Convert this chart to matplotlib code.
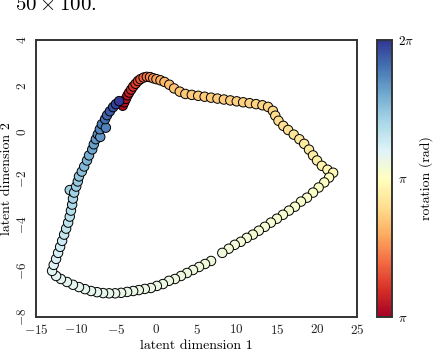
import numpy as np
from matplotlib import pyplot as plt
import matplotlib
matplotlib.use("Agg")

# latent path, in drawing order (red end -> blue end)
x_top = [-4.2, -4.0, -3.8, -3.6, -3.4, -3.15, -2.9, -2.6, -2.3, -2.0, -1.6, -1.2,
         -0.8, -0.4, 0.0, 0.5, 1.0, 1.6, 2.2, 2.9, 3.6, 4.4, 5.2, 6.0, 6.8, 7.6,
         8.4, 9.2, 10.0, 10.8, 11.6, 12.4, 13.2, 13.9, 14.5, 14.8, 15.2, 15.8,
         16.4, 17.1, 17.8, 18.4, 19.0, 19.5, 20.0, 20.6, 21.3, 22.0]
y_top = [1.15, 1.30, 1.45, 1.60, 1.72, 1.85, 1.98, 2.10, 2.22, 2.30, 2.37, 2.40,
         2.39, 2.34, 2.30, 2.25, 2.18, 2.06, 1.90, 1.76, 1.66, 1.62, 1.58, 1.54,
         1.50, 1.46, 1.42, 1.38, 1.34, 1.30, 1.26, 1.22, 1.17, 1.10, 0.93, 0.72,
         0.50, 0.28, 0.10, -0.10, -0.30, -0.50, -0.75, -1.00, -1.22, -1.45,
         -1.62, -1.75]
rot_top = [3.19, 3.22, 3.26, 3.30, 3.35, 3.40, 3.46, 3.52, 3.58, 3.64, 3.72, 3.80,
           3.88, 3.96, 4.03, 4.09, 4.14, 4.18, 4.21, 4.23, 4.25, 4.26, 4.27, 4.27,
           4.28, 4.28, 4.29, 4.29, 4.30, 4.30, 4.31, 4.31, 4.32, 4.33, 4.35, 4.37,
           4.39, 4.41, 4.43, 4.45, 4.47, 4.49, 4.51, 4.53, 4.56, 4.59, 4.62, 4.66]

x_low = [21.5, 20.9, 20.2, 19.5, 18.75, 18.0, 17.25, 16.5, 15.75, 15.0, 14.25,
         13.5, 12.75, 12.0, 11.25, 10.5, 9.75, 9.0, 8.2, 6.8, 6.05, 5.3, 4.55,
         3.8, 3.05, 2.3, 1.55, 0.8, 0.05, -0.7, -1.45, -2.2, -2.9, -3.65, -4.4,
         -5.15, -5.9, -6.65, -7.4, -8.15, -8.9, -9.65, -10.4, -11.15, -11.9,
         -12.5, -13.0]
y_low = [-1.96, -2.17, -2.39, -2.61, -2.83, -3.00, -3.22, -3.39, -3.57, -3.74,
         -3.91, -4.09, -4.26, -4.43, -4.57, -4.74, -4.87, -5.04, -5.22, -5.57,
         -5.70, -5.83, -5.96, -6.09, -6.22, -6.35, -6.43, -6.57, -6.65, -6.74,
         -6.78, -6.83, -6.87, -6.91, -6.95, -6.97, -6.97, -6.96, -6.92, -6.87,
         -6.79, -6.70, -6.60, -6.48, -6.35, -6.22, -6.00]
rot_low = [4.72, 4.74, 4.75, 4.76, 4.77, 4.78, 4.79, 4.80, 4.80, 4.81, 4.82,
           4.82, 4.83, 4.83, 4.84, 4.84, 4.85, 4.85, 4.86, 4.86, 4.87, 4.87,
           4.88, 4.88, 4.89, 4.89, 4.90, 4.90, 4.91, 4.91, 4.92, 4.92, 4.93,
           4.93, 4.94, 4.94, 4.95, 4.95, 4.96, 4.96, 4.97, 4.97, 4.98, 4.98,
           4.99, 4.99, 5.00]

x_left = [-12.8, -12.5, -12.25, -12.0, -11.75, -11.5, -11.25, -11.0, -10.8,
          -10.65, -10.5, -10.4, -10.8, -10.25, -10.0, -9.8, -9.65, -9.3, -9.0,
          -8.65, -8.4, -8.0, -7.8, -7.55, -7.3, -7.0, -7.05, -6.8, -6.3, -6.4,
          -6.15, -5.8, -5.4, -5.05, -4.65]
y_left = [-5.74, -5.48, -5.22, -4.96, -4.70, -4.43, -4.17, -3.91, -3.65, -3.39,
          -3.13, -2.87, -2.50, -2.61, -2.35, -2.13, -1.91, -1.70, -1.48, -1.22,
          -1.00, -0.74, -0.52, -0.30, -0.09, -0.20, 0.13, 0.35, 0.20, 0.57,
          0.74, 0.91, 1.09, 1.22, 1.35]
rot_left = [5.03, 5.06, 5.09, 5.12, 5.15, 5.18, 5.21, 5.24, 5.27, 5.30, 5.33,
            5.36, 5.40, 5.39, 5.42, 5.45, 5.48, 5.52, 5.56, 5.60, 5.64, 5.69,
            5.73, 5.77, 5.82, 5.79, 5.87, 5.92, 5.89, 5.98, 6.04, 6.10, 6.16,
            6.22, 6.27]

x_ticks = [-15, -10, -5, 0, 5, 10, 15, 20, 25]
y_ticks = [-8, -6, -4, -2, 0, 2, 4]
cbar_labels = [r"$\pi$", r"$\pi$", r"$2\pi$"]


def main():
    plt.rcParams["font.family"] = "serif"
    plt.rcParams["font.serif"] = ["cmr10", "DejaVu Serif"]
    plt.rcParams["mathtext.fontset"] = "cm"
    plt.rcParams["axes.formatter.use_mathtext"] = True

    xs = np.array(x_top + x_low + x_left)
    ys = np.array(y_top + y_low + y_left)
    rot = np.array(rot_top + rot_low + rot_left)

    fig = plt.figure(figsize=(4.34, 3.5), dpi=100)
    ax = fig.add_axes([0.083, 0.094, 0.740, 0.792])
    sc = ax.scatter(xs, ys, c=rot, cmap="RdYlBu", vmin=np.pi, vmax=2 * np.pi,
                    s=46, edgecolors="black", linewidths=0.7)
    ax.set_xlim(-15, 25)
    ax.set_ylim(-8, 4)
    ax.set_xticks(x_ticks)
    ax.set_yticks(y_ticks)
    ax.tick_params(length=0, labelsize=9.5, colors="#222222")
    ax.tick_params(axis="x", pad=4)
    ax.tick_params(axis="y", pad=5, labelrotation=90)
    for lab in ax.get_yticklabels():
        lab.set_va("center")
    for sp in ax.spines.values():
        sp.set_color("#333333")
        sp.set_linewidth(1.4)
    ax.set_xlabel("latent dimension 1", fontsize=10, labelpad=2)
    ax.set_ylabel("latent dimension 2", fontsize=10, labelpad=2)

    cax = fig.add_axes([0.869, 0.094, 0.035, 0.792])
    cbar = fig.colorbar(sc, cax=cax, ticks=[np.pi, 1.5 * np.pi, 2 * np.pi])
    cbar.set_ticklabels(cbar_labels)
    cbar.ax.tick_params(length=0, labelsize=9.5, pad=4)
    cbar.outline.set_edgecolor("#333333")
    cbar.outline.set_linewidth(1.4)
    cbar.set_label("rotation (rad)", fontsize=10, labelpad=4)

    # caption line of the page, cut off at the top edge as in the source
    fig.text(0.035, 0.972, r"$50\times100$.", fontsize=15, va="baseline")

    fig.savefig("out.png", dpi=100)


if __name__ == "__main__":
    main()
